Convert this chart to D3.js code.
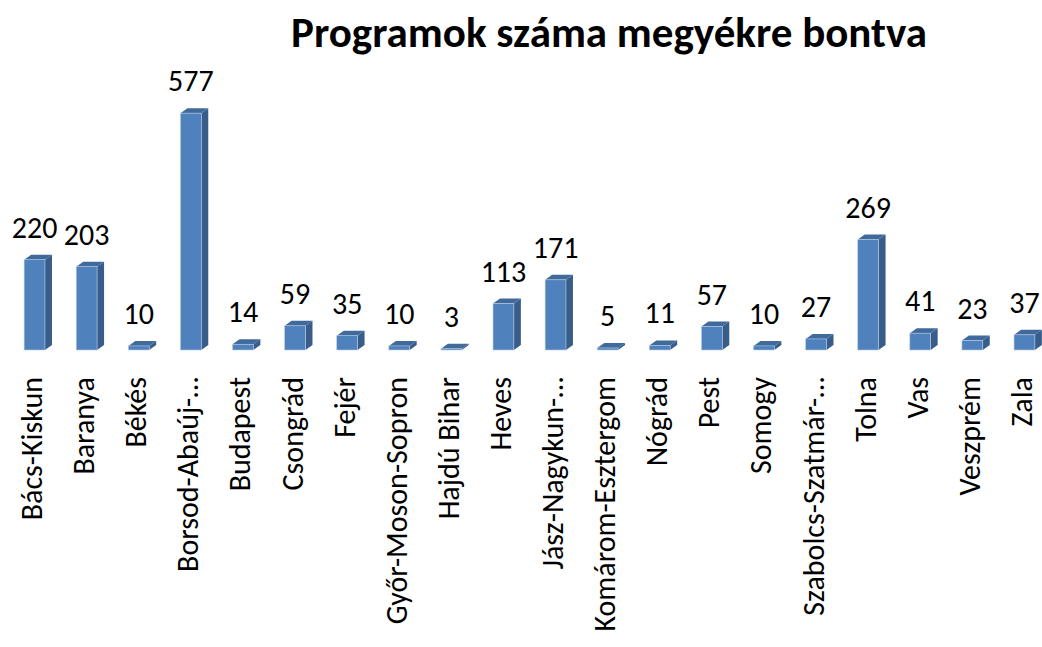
<!DOCTYPE html>
<html>
<head>
<meta charset="utf-8">
<script src="https://cdn.jsdelivr.net/npm/d3@7"></script>
<style>
  body { margin: 0; background: #fff; }
  svg text { font-family: Carlito, Lato, "Open Sans", sans-serif; fill: #000; }
</style>
</head>
<body>
<div id="chart"></div>
<script>
const megyek = ["Bács-Kiskun", "Baranya", "Békés", "Borsod-Abaúj-…", "Budapest", "Csongrád", "Fejér",
  "Győr-Moson-Sopron", "Hajdú Bihar", "Heves", "Jász-Nagykun-…", "Komárom-Esztergom", "Nógrád",
  "Pest", "Somogy", "Szabolcs-Szatmár-…", "Tolna", "Vas", "Veszprém", "Zala"];
const programok = [220, 203, 10, 577, 14, 59, 35, 10, 3, 113, 171, 5, 11, 57, 10, 27, 269, 41, 23, 37];

const data = megyek.map((m, i) => ({ megye: m, db: programok[i] }));

const width = 1042, height = 647;
const baseY = 350;
const dx = 7, dy = 5;  // 3d depth

const svg = d3.select("#chart").append("svg")
  .attr("width", width)
  .attr("height", height);

svg.append("text")
  .attr("x", 609)
  .attr("y", 47)
  .attr("text-anchor", "middle")
  .style("font-size", "43px")
  .style("font-weight", "bold")
  .text("Programok száma megyékre bontva");

const x = d3.scaleBand()
  .domain(megyek)
  .range([8.5, 1050.5])
  .paddingInner(0.6)
  .paddingOuter(0.3);

const y = d3.scaleLinear()
  .domain([0, 600])
  .range([baseY, baseY - 600 * 0.4105]);

const bw = x.bandwidth();

const bar = svg.selectAll("g.bar")
  .data(data)
  .enter()
  .append("g")
  .attr("class", "bar");

// side
bar.append("path")
  .attr("d", d => {
    const x1 = x(d.megye) + bw, t = y(d.db);
    return `M${x1},${t}L${x1 + dx},${t - dy}L${x1 + dx},${baseY - dy}L${x1},${baseY}Z`;
  })
  .attr("fill", "#385d8a");

// top
bar.append("path")
  .attr("d", d => {
    const x0 = x(d.megye), t = y(d.db);
    return `M${x0},${t}L${x0 + dx},${t - dy}L${x0 + bw + dx},${t - dy}L${x0 + bw},${t}Z`;
  })
  .attr("fill", "#40699c");

// front
bar.append("rect")
  .attr("x", d => x(d.megye))
  .attr("y", d => y(d.db))
  .attr("width", bw)
  .attr("height", d => baseY - y(d.db))
  .attr("fill", "#4f81bd")
  .attr("stroke", "#b9cde5")
  .attr("stroke-width", 0.6);

// value labels
bar.append("text")
  .attr("x", d => x(d.megye) + bw / 2)
  .attr("y", d => y(d.db) - 22)
  .attr("text-anchor", "middle")
  .style("font-size", "30px")
  .text(d => d.db);

// category labels
svg.selectAll("text.cat")
  .data(data)
  .enter()
  .append("text")
  .attr("class", "cat")
  .attr("transform", d => `translate(${x(d.megye) + bw / 2 - 3},377) rotate(-90)`)
  .attr("dy", "0.35em")
  .attr("text-anchor", "end")
  .style("font-size", "30px")
  .text(d => d.megye);
</script>
</body>
</html>
